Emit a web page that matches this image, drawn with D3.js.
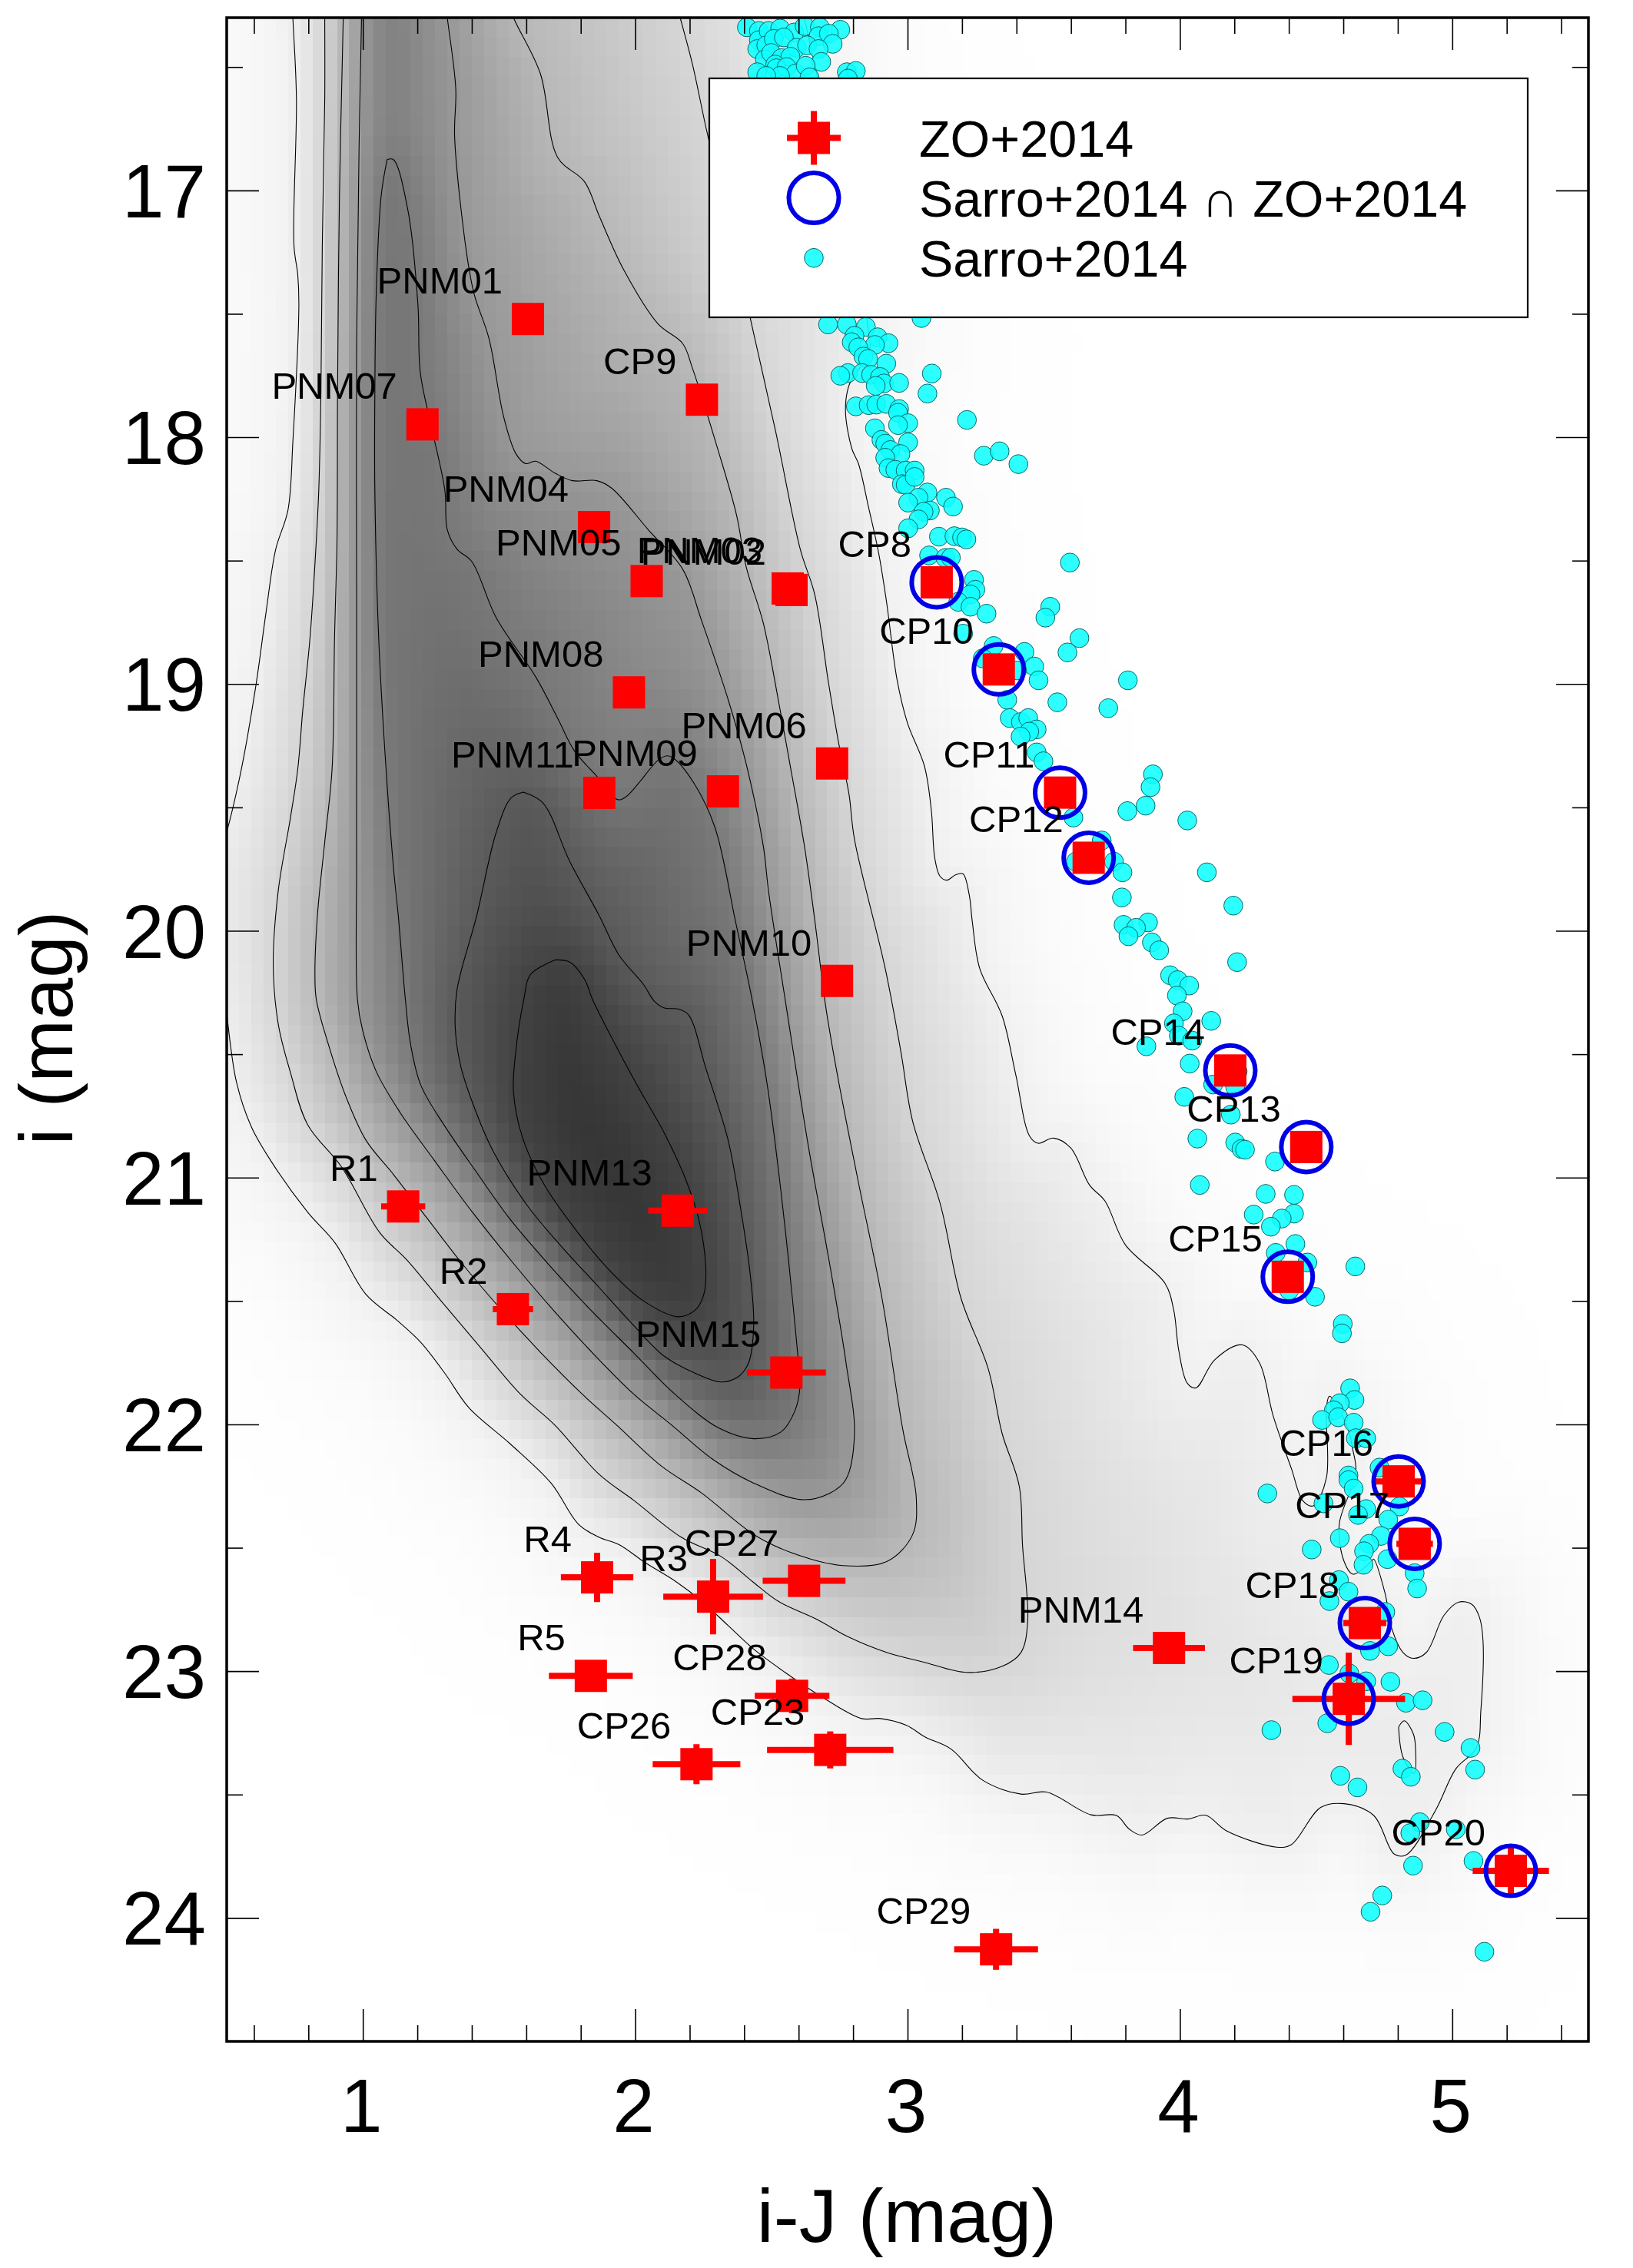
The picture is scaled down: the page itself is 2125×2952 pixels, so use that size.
<!DOCTYPE html>
<html><head><meta charset="utf-8">
<script src="https://cdn.jsdelivr.net/npm/d3@7"></script>
<style>html,body{margin:0;padding:0;background:#fff}svg{display:block}text{font-family:"Liberation Sans",Arial,sans-serif;fill:#000}</style>
</head><body><div id="chart"></div>
<script>
const contour1=[[2.6,16.2],[2.667,16.53],[2.76,17.0],[2.85,17.52],[2.86,17.65],[2.786,17.787],[2.772,17.89],[2.795,18.045],[2.82,18.108],[2.857,18.285],[2.894,18.47],[2.923,18.669],[2.961,18.98],[2.999,19.156],[3.062,19.333],[3.087,19.509],[3.1,19.706],[3.119,19.779],[3.144,19.795],[3.175,19.774],[3.203,19.769],[3.226,19.852],[3.238,19.966],[3.265,20.153],[3.347,20.344],[3.397,20.582],[3.448,20.832],[3.479,20.861],[3.536,20.84],[3.599,20.88],[3.668,21.03],[3.725,21.095],[3.8,21.273],[3.945,21.428],[3.977,21.535],[3.996,21.702],[4.027,21.833],[4.059,21.852],[4.128,21.738],[4.229,21.678],[4.292,21.75],[4.342,21.964],[4.409,22.178],[4.452,22.31],[4.49,22.33],[4.538,22.216],[4.538,21.933],[4.549,21.886],[4.614,22.009],[4.635,22.103],[4.646,22.197],[4.585,22.405],[4.603,22.556],[4.635,22.607],[4.706,22.552],[4.711,22.546],[4.754,22.688],[4.776,22.82],[4.819,22.924],[4.857,22.948],[4.905,22.924],[4.97,22.773],[5.024,22.72],[5.073,22.73],[5.1,22.782],[5.113,22.877],[5.105,23.16],[5.089,23.31],[5.013,23.396],[4.938,23.565],[4.83,23.745],[4.787,23.741],[4.711,23.584],[4.603,23.537],[4.517,23.552],[4.409,23.703],[4.355,23.713],[4.171,23.647],[4.095,23.584],[4.03,23.599],[3.954,23.596],[3.861,23.664],[3.814,23.64],[3.767,23.585],[3.673,23.582],[3.51,23.49],[3.416,23.498],[3.276,23.442],[3.159,23.315],[3.065,23.267],[2.995,23.219],[2.901,23.192],[2.831,23.192],[2.679,23.1],[2.55,23.005],[2.433,22.909],[2.34,22.814],[2.246,22.718],[2.152,22.639],[2.035,22.559],[1.942,22.488],[1.868,22.458],[1.792,22.405],[1.691,22.238],[1.54,22.078],[1.389,21.932],[1.301,21.793],[1.213,21.668],[1.125,21.578],[1.011,21.473],[.898,21.265],[.797,21.14],[.662,20.932],[.59,20.793],[.536,20.614],[.5,20.336],[.48,20.14],[.46,19.74],[.5,19.6],[.554,19.344],[.608,19.0],[.644,18.713],[.68,18.454],[.725,18.295],[.743,18.017],[.765,17.461],[.761,17.342],[.747,17.223],[.756,16.627],[.743,16.3],[.74,16.2]];
const contour2=[[2.14,16.2],[2.165,16.3],[2.21,16.488],[2.264,16.766],[2.354,17.18],[2.435,17.58],[2.516,17.978],[2.606,18.454],[2.659,18.637],[2.709,18.99],[2.747,19.239],[2.785,19.447],[2.805,19.629],[2.918,20.153],[2.975,20.487],[3.019,20.773],[3.12,21.106],[3.196,21.488],[3.296,21.774],[3.347,22.036],[3.41,22.25],[3.422,22.488],[3.441,22.8],[3.416,22.925],[3.346,22.981],[3.217,23.005],[3.065,22.965],[2.925,22.925],[2.784,22.862],[2.667,22.79],[2.527,22.718],[2.433,22.639],[2.316,22.536],[2.17,22.458],[1.994,22.307],[1.868,22.203],[1.704,22.002],[1.578,21.877],[1.427,21.682],[1.288,21.501],[1.162,21.334],[1.062,21.223],[.923,20.959],[.797,20.785],[.734,20.574],[.689,20.376],[.671,20.137],[.689,19.84],[.734,19.542],[.761,19.344],[.779,19.11],[.806,18.812],[.824,18.514],[.838,18.216],[.846,17.819],[.851,17.223],[.86,16.627],[.86,16.3],[.86,16.2]];
const contour3=[[1.52,16.2],[1.553,16.3],[1.652,16.528],[1.715,16.866],[1.814,16.965],[1.868,17.104],[1.958,17.322],[2.084,17.541],[2.174,17.62],[2.21,17.72],[2.3,18.037],[2.372,18.315],[2.407,18.523],[2.47,18.752],[2.52,19.032],[2.571,19.343],[2.621,19.655],[2.66,19.963],[2.698,20.296],[2.742,20.582],[2.818,21.011],[2.906,21.488],[2.981,22.012],[3.032,22.298],[3.018,22.448],[2.925,22.555],[2.761,22.572],[2.574,22.52],[2.435,22.446],[2.246,22.28],[2.095,22.168],[1.931,22.002],[1.805,21.877],[1.654,21.71],[1.503,21.529],[1.364,21.348],[1.238,21.168],[1.112,20.987],[1.011,20.848],[.936,20.667],[.873,20.459],[.829,20.278],[.824,20.177],[.833,19.939],[.86,19.64],[.887,19.343],[.896,18.812],[.905,18.415],[.907,17.819],[.914,17.024],[.928,16.3],[.93,16.2]];
const contour4=[[1.3,16.2],[1.31,16.3],[1.341,16.587],[1.337,16.786],[1.382,17.263],[1.409,17.422],[1.463,17.6],[1.517,17.918],[1.562,18.067],[1.598,18.107],[1.634,18.097],[1.706,18.146],[1.769,18.176],[1.859,18.176],[1.913,18.206],[2.048,18.375],[2.174,18.534],[2.243,18.741],[2.344,19.073],[2.407,19.322],[2.47,19.655],[2.49,19.843],[2.553,20.296],[2.635,20.868],[2.717,21.369],[2.774,21.75],[2.805,22.036],[2.773,22.224],[2.712,22.28],[2.611,22.305],[2.435,22.238],[2.284,22.141],[2.133,22.002],[1.994,21.877],[1.855,21.724],[1.704,21.543],[1.553,21.348],[1.402,21.14],[1.263,20.931],[1.137,20.737],[1.049,20.57],[.999,20.403],[.98,20.278],[.977,19.74],[.977,19.343],[.977,18.613],[.977,17.62],[.986,16.826],[.995,16.3],[.995,16.2]];
const contour5=[[1.089,16.875],[1.112,16.875],[1.166,17.084],[1.202,17.461],[1.211,17.739],[1.256,17.978],[1.301,18.216],[1.31,18.375],[1.346,18.454],[1.4,18.504],[1.49,18.732],[1.634,18.97],[1.714,19.136],[1.777,19.271],[1.859,19.374],[1.934,19.468],[1.966,19.457],[2.086,19.307],[2.117,19.291],[2.142,19.302],[2.218,19.406],[2.293,19.582],[2.369,19.966],[2.429,20.278],[2.485,20.626],[2.548,21.182],[2.603,21.8],[2.605,21.849],[2.586,21.946],[2.536,22.03],[2.435,22.058],[2.309,22.016],[2.145,21.877],[1.994,21.71],[1.83,21.529],[1.679,21.348],[1.54,21.168],[1.414,20.973],[1.301,20.792],[1.213,20.626],[1.175,20.459],[1.156,20.278],[1.13,19.939],[1.112,19.74],[1.085,19.343],[1.058,18.812],[1.044,18.216],[1.044,17.819],[1.049,17.422],[1.067,17.024],[1.089,16.875]];
const contour6=[[1.589,19.438],[1.661,19.482],[1.76,19.72],[1.868,19.939],[1.94,20.098],[2.03,20.217],[2.07,20.285],[2.107,20.313],[2.158,20.317],[2.196,20.341],[2.259,20.556],[2.341,20.848],[2.385,21.112],[2.422,21.39],[2.435,21.599],[2.416,21.751],[2.378,21.807],[2.315,21.828],[2.221,21.793],[2.107,21.724],[1.994,21.599],[1.868,21.446],[1.729,21.279],[1.603,21.112],[1.477,20.89],[1.402,20.695],[1.358,20.542],[1.339,20.389],[1.346,20.237],[1.418,19.939],[1.49,19.6],[1.544,19.462],[1.589,19.438]];
const contour7=[[1.706,20.118],[1.76,20.127],[1.814,20.197],[1.843,20.278],[1.906,20.417],[2.007,20.626],[2.107,20.82],[2.183,21.001],[2.233,21.168],[2.259,21.362],[2.252,21.473],[2.221,21.536],[2.158,21.564],[2.032,21.501],[1.906,21.376],[1.78,21.209],[1.666,21.029],[1.585,20.834],[1.553,20.653],[1.559,20.514],[1.591,20.278],[1.616,20.177],[1.706,20.118]];
const contourIsland=[[4.803,23.226],[4.824,23.201],[4.857,23.254],[4.865,23.31],[4.86,23.414],[4.819,23.348],[4.803,23.226]];
const contourGray=[240,214,184,152,120,90,66];
const coreGray=54;
const ridgeTop=[[1.1,16.875],[1.1,16.2]];
const ridgeGray=126;

const sarroPoints=[[2.41,16.339],[2.454,16.354],[2.454,16.391],[2.49,16.354],[2.532,16.344],[2.584,16.36],[2.622,16.334],[2.678,16.339],[2.753,16.349],[2.673,16.375],[2.711,16.365],[2.725,16.406],[2.448,16.427],[2.481,16.412],[2.509,16.386],[2.546,16.38],[2.593,16.422],[2.631,16.412],[2.673,16.427],[2.476,16.469],[2.499,16.443],[2.537,16.464],[2.57,16.458],[2.683,16.479],[2.514,16.49],[2.448,16.521],[2.518,16.505],[2.556,16.5],[2.589,16.526],[2.626,16.495],[2.532,16.536],[2.481,16.536],[2.64,16.542],[2.777,16.521],[2.81,16.516],[2.781,16.547],
[2.708,17.543],[2.777,17.543],[2.847,17.553],[3.051,17.517],[2.805,17.589],[2.795,17.615],[2.89,17.595],[2.93,17.619],[2.88,17.626],[2.819,17.636],[2.838,17.673],[2.855,17.683],[2.922,17.702],[2.781,17.74],[2.753,17.751],[2.833,17.74],[2.866,17.747],[2.899,17.756],[2.913,17.782],[2.883,17.792],[2.969,17.78],[3.089,17.742],[3.073,17.823],[3.218,17.93],[3.28,18.075],[3.338,18.057],[3.407,18.109],[2.81,17.875],[2.857,17.87],[2.885,17.868],[2.922,17.865],[2.969,17.886],[2.965,17.901],[3.002,17.943],[2.965,17.951],[2.88,17.964],[3.002,18.021],[2.904,18.011],[2.918,18.026],[2.937,18.052],[2.974,18.068],[2.918,18.083],[2.93,18.125],[2.955,18.132],[2.993,18.135],[3.026,18.135],[2.979,18.19],[2.993,18.193],[3.026,18.161],[3.073,18.224],[3.04,18.245],[3.002,18.265],[3.141,18.245],[3.167,18.281],[3.082,18.297],[3.059,18.302],[3.04,18.333],[3.002,18.369],[3.115,18.403],[3.172,18.401],[3.2,18.406],[3.216,18.414],[3.079,18.479],[3.139,18.489],
[3.159,18.488],[3.596,18.508],[3.244,18.578],[3.249,18.618],[3.231,18.637],[3.186,18.667],[3.231,18.687],[3.29,18.715],[3.204,18.796],[3.524,18.687],[3.506,18.731],[3.631,18.814],[3.587,18.872],[3.809,18.985],[3.737,19.098],[3.55,19.074],[3.316,18.846],[3.429,18.87],[3.465,18.929],[3.481,18.985],[3.276,18.896],[3.402,18.945],[3.366,19.064],[3.375,19.138],[3.416,19.154],[3.443,19.138],[3.474,19.184],[3.447,19.193],[3.415,19.213],[3.474,19.277],[3.499,19.313],[3.901,19.366],[3.892,19.418],[3.874,19.493],[3.807,19.515],[4.027,19.553],[3.609,19.541],[3.713,19.634],[3.618,19.72],[3.758,19.72],[3.789,19.763],[4.099,19.763],[3.787,19.865],[4.196,19.898],[3.793,19.976],[3.883,19.966],[3.839,19.988],[3.811,20.022],[3.897,20.047],[3.924,20.079],[4.21,20.127],[3.964,20.18],[3.992,20.2],[4.034,20.222],[3.989,20.262],[4.01,20.326],[3.978,20.375],[4.115,20.365],[3.996,20.425],[4.045,20.445],[3.877,20.468],[4.036,20.538],[4.212,20.57],[4.122,20.623],[4.203,20.633],[4.016,20.673],[4.187,20.745],[4.064,20.842],[4.203,20.858],[4.226,20.884],[4.239,20.887],[4.349,20.935],[4.073,21.03],[4.315,21.066],[4.419,21.07],[4.419,21.146],[4.374,21.166],[4.271,21.15],[4.334,21.199],[4.424,21.269],[4.352,21.305],[4.468,21.344],[4.644,21.36],[4.401,21.457],[4.496,21.483],
[4.598,21.593],[4.595,21.631],[4.625,21.854],[4.641,21.901],[4.587,21.914],[4.565,21.943],[4.522,21.982],[4.581,21.971],[4.638,21.993],[4.646,22.056],[4.684,22.056],[4.733,22.175],[4.619,22.207],[4.619,22.226],[4.638,22.26],[4.321,22.28],[4.527,22.32],[4.806,22.333],[4.684,22.343],[4.654,22.367],[4.765,22.386],[4.738,22.452],[4.587,22.461],[4.484,22.507],[4.695,22.484],[4.676,22.514],[4.762,22.546],[4.674,22.569],[4.862,22.603],[4.871,22.665],[4.584,22.631],[4.619,22.678],[4.549,22.716],[4.754,22.76],[4.698,22.918],[4.765,22.899],[4.547,22.975],[4.622,23.009],[4.684,23.041],[4.773,23.043],[4.83,23.128],[4.891,23.118],[4.541,23.211],[4.336,23.239],[4.972,23.246],[5.067,23.311],[5.084,23.399],[4.817,23.395],[4.848,23.428],[4.589,23.424],[4.652,23.471],[4.881,23.612],[4.846,23.656],[5.013,23.641],[5.078,23.769],[4.856,23.788],[4.743,23.909],[4.7,23.975],[5.118,24.137]];

const zoNames=["PNM01","PNM07","CP9","PNM04","PNM05","PNM03","PNM02","PNM08","PNM06","PNM09","PNM11","PNM10","R1","PNM13","R2","PNM15","R4","R3","CP27","R5","CP28","CP23","CP26","CP29","PNM14","CP8","CP10","CP11","CP12","CP14","CP13","CP15","CP16","CP17","CP18","CP19","CP20"];
const zoColor=[1.606,1.219,2.245,1.849,2.042,2.56,2.574,1.977,2.723,2.322,1.868,2.741,1.148,2.156,1.551,2.555,1.86,2.286,2.62,1.837,2.576,2.716,2.225,3.325,3.96,3.107,3.335,3.56,3.665,4.185,4.464,4.396,4.803,4.862,4.679,4.62,5.215];
const zoMag=[17.521,17.948,17.848,18.364,18.583,18.613,18.619,19.034,19.322,19.435,19.441,20.203,21.117,21.134,21.533,21.79,22.62,22.698,22.634,23.019,23.1,23.319,23.377,24.127,22.906,18.588,18.941,19.44,19.704,20.566,20.876,21.402,22.231,22.484,22.805,23.112,23.809];
const zoColorErr=[.02,.02,.02,.02,.02,.02,.02,.02,.02,.02,.02,.02,.081,.108,.074,.145,.133,.183,.152,.154,.137,.232,.161,.154,.132,.02,.02,.02,.02,.02,.02,.04,.084,.067,.079,.207,.14];
const zoMagErr=[.01,.01,.01,.01,.01,.01,.01,.01,.01,.01,.01,.01,.02,.03,.02,.03,.1,.153,.05,.05,.07,.075,.081,.083,.04,.01,.01,.01,.01,.01,.01,.01,.03,.03,.03,.187,.094];
const matchedNames=["CP8","CP10","CP11","CP12","CP14","CP13","CP15","CP16","CP17","CP18","CP19","CP20"];
const xMajor=[1,2,3,4,5];
const xMinor=[.6,.8,1.2,1.4,1.6,1.8,2.2,2.4,2.6,2.8,3.2,3.4,3.6,3.8,4.2,4.4,4.6,4.8,5.2,5.4];
const yMajor=[17,18,19,20,21,22,23,24];
const yMinor=[16.5,17.5,18.5,19.5,20.5,21.5,22.5,23.5];
const legendLabels=["ZO+2014","Sarro+2014 ∩ ZO+2014","Sarro+2014"];
const xTitle="i-J (mag)",yTitle="i (mag)";

const W=2125,H=2952,L=295,R=2067,T=23,B=2657;
const x=d3.scaleLinear().domain([.5,5.5]).range([L,R]);
const y=d3.scaleLinear().domain([16.3,24.5]).range([T,B]);
const svg=d3.select("#chart").append("svg").attr("width",W).attr("height",H).attr("viewBox",`0 0 ${W} ${H}`);
svg.append("defs").append("clipPath").attr("id","plot").append("rect").attr("x",L).attr("y",T).attr("width",R-L).attr("height",B-T);
const plot=svg.append("g").attr("clip-path","url(#plot)");

// Density image: grey of each cell interpolated between the contour lines
const toPx=c=>c.map(p=>[x(p[0]),y(p[1])]);
const nested=[contour1,contour2,contour3,contour4,contour5,contour6,contour7].map(toPx);
const ridgePx=toPx(ridgeTop);
function segDist(px,py,c){let best=1e12;for(let i=0;i<c.length-1;i++){const ax=c[i][0],ay=c[i][1],dx=c[i+1][0]-ax,dy=c[i+1][1]-ay,l=dx*dx+dy*dy;let t=l?((px-ax)*dx+(py-ay)*dy)/l:0;t=t<0?0:t>1?1:t;const qx=ax+t*dx-px,qy=ay+t*dy-py,d=qx*qx+qy*qy;if(d<best)best=d;}return Math.sqrt(best);}
function grey(px,py){let k=0;for(let i=0;i<nested.length;i++){if(d3.polygonContains(nested[i],[px,py]))k=i+1;else break;}
 if(k===0){const d=segDist(px,py,nested[0]);return contourGray[0]+(255-contourGray[0])*(1-Math.exp(-d/80));}
 if(k===7){const d=segDist(px,py,nested[6]);return contourGray[6]-(contourGray[6]-coreGray)*Math.min(1,d/70);}
 const a=segDist(px,py,nested[k-1]),b=segDist(px,py,nested[k]);let g=contourGray[k-1]+(contourGray[k]-contourGray[k-1])*a/(a+b);
 if(k===4){const r=segDist(px,py,ridgePx);g=Math.min(g,contourGray[3]+(ridgeGray-contourGray[3])*a/(a+r));}
 return g;}
const cellW=.045,cellH=.08;
const uVals=d3.range(.5,5.5,cellW),vVals=d3.range(16.3,24.5,cellH);
const raw=uVals.map(u=>vVals.map(v=>grey(x(u+cellW/2),y(v+cellH/2))));
const blur=(i,j)=>{let s=0,w=0;for(let a=-1;a<=1;a++)for(let b=-1;b<=1;b++){const r=raw[i+a];if(!r||r[j+b]===undefined)continue;const k=(2-Math.abs(a))*(2-Math.abs(b));s+=k*r[j+b];w+=k;}return s/w;};
const cells=[];
uVals.forEach((u,i)=>vVals.forEach((v,j)=>cells.push({u,v,g:Math.round(blur(i,j))})));
plot.append("g").attr("shape-rendering","crispEdges").selectAll("rect").data(cells).join("rect")
 .attr("x",d=>x(d.u)).attr("y",d=>y(d.v)).attr("width",x(cellW)-x(0)+1).attr("height",y(16.3+cellH)-y(16.3)+1)
 .attr("fill",d=>`rgb(${d.g},${d.g},${d.g})`);

// Contours
const line=d3.line().x(d=>x(d[0])).y(d=>y(d[1])).curve(d3.curveCatmullRom.alpha(.5));
plot.append("g").selectAll("path").data([contour1,contour2,contour3,contour4,contour5,contour6,contour7,contourIsland]).join("path")
 .attr("d",line).attr("fill","none").attr("stroke","#000").attr("stroke-width",1.1);

// Sarro dots
plot.append("g").selectAll("circle").data(sarroPoints).join("circle")
 .attr("cx",d=>x(d[0])).attr("cy",d=>y(d[1])).attr("r",12.3)
 .attr("fill","#10ffff").attr("fill-opacity",.88).attr("stroke","#0a6a6a").attr("stroke-width",1);

// ZO points
const zo=zoNames.map((n,i)=>({n,c:zoColor[i],m:zoMag[i],ce:zoColorErr[i],me:zoMagErr[i]}));
const red="#ff0000",SQ=42;
const zg=plot.append("g");
zg.selectAll("line.h").data(zo).join("line").attr("class","h").attr("x1",d=>x(d.c-d.ce)).attr("x2",d=>x(d.c+d.ce)).attr("y1",d=>y(d.m)).attr("y2",d=>y(d.m)).attr("stroke",red).attr("stroke-width",8);
zg.selectAll("line.v").data(zo).join("line").attr("class","v").attr("x1",d=>x(d.c)).attr("x2",d=>x(d.c)).attr("y1",d=>y(d.m-d.me)).attr("y2",d=>y(d.m+d.me)).attr("stroke",red).attr("stroke-width",8);
zg.selectAll("rect").data(zo).join("rect").attr("x",d=>x(d.c)-SQ/2).attr("y",d=>y(d.m)-SQ/2).attr("width",SQ).attr("height",SQ).attr("fill",red);
zg.selectAll("circle").data(zo.filter(d=>matchedNames.includes(d.n))).join("circle")
 .attr("cx",d=>x(d.c)).attr("cy",d=>y(d.m)).attr("r",32.5).attr("fill","none").attr("stroke","#0000e6").attr("stroke-width",6);
plot.append("g").selectAll("text").data(zo).join("text")
 .attr("x",d=>x(d.c)-33).attr("y",d=>y(d.m)-33).attr("text-anchor","end").attr("font-size",49).text(d=>d.n);

// Axes: ticks inward on the four sides
function tick(g,axis,size,vals){g.call(axis.tickValues(vals).tickSize(-size).tickFormat("")).call(s=>s.select(".domain").remove());g.selectAll("line").attr("stroke","#000").attr("stroke-width",1.6);}
const ax=svg.append("g");
[[d3.axisBottom,x,`translate(0,${B})`,xMajor,xMinor],[d3.axisTop,x,`translate(0,${T})`,xMajor,xMinor],[d3.axisLeft,y,`translate(${L},0)`,yMajor,yMinor],[d3.axisRight,y,`translate(${R},0)`,yMajor,yMinor]].forEach(([a,s,t,maj,min])=>{
 tick(ax.append("g").attr("transform",t),a(s),42,maj);
 tick(ax.append("g").attr("transform",t),a(s),21,min);
});
ax.append("rect").attr("x",L).attr("y",T).attr("width",R-L).attr("height",B-T).attr("fill","none").attr("stroke","#000").attr("stroke-width",3.5);
svg.append("g").selectAll("text").data(xMajor).join("text").attr("x",d=>x(d)-2).attr("y",2775).attr("text-anchor","middle").attr("font-size",98).text(d=>d);
svg.append("g").selectAll("text").data(yMajor).join("text").attr("x",268).attr("y",d=>y(d)+35).attr("text-anchor","end").attr("font-size",98).text(d=>d);
svg.append("text").attr("x",1180).attr("y",2918).attr("text-anchor","middle").attr("font-size",99).text(xTitle);
svg.append("text").attr("transform","translate(94,1338) rotate(-90)").attr("text-anchor","middle").attr("font-size",98).text(yTitle);

// Legend
const lg=svg.append("g");
lg.append("rect").attr("x",923).attr("y",102).attr("width",1065).attr("height",311).attr("fill","#fff").attr("stroke","#000").attr("stroke-width",2.2);
const legendY=[179.5,257.6,335.7],lx=1059;
lg.append("line").attr("x1",lx-35).attr("x2",lx+35).attr("y1",legendY[0]).attr("y2",legendY[0]).attr("stroke",red).attr("stroke-width",8);
lg.append("line").attr("x1",lx).attr("x2",lx).attr("y1",legendY[0]-35).attr("y2",legendY[0]+35).attr("stroke",red).attr("stroke-width",8);
lg.append("rect").attr("x",lx-SQ/2).attr("y",legendY[0]-SQ/2).attr("width",SQ).attr("height",SQ).attr("fill",red);
lg.append("circle").attr("cx",lx).attr("cy",legendY[1]).attr("r",32.5).attr("fill","none").attr("stroke","#0000e6").attr("stroke-width",6);
lg.append("circle").attr("cx",lx).attr("cy",legendY[2]).attr("r",12.3).attr("fill","#10ffff").attr("fill-opacity",.88).attr("stroke","#0a6a6a").attr("stroke-width",1);
lg.selectAll("text").data(legendLabels).join("text").attr("x",1196).attr("y",(d,i)=>legendY[i]+24.7).attr("font-size",66.5).text(d=>d);
</script></body></html>
